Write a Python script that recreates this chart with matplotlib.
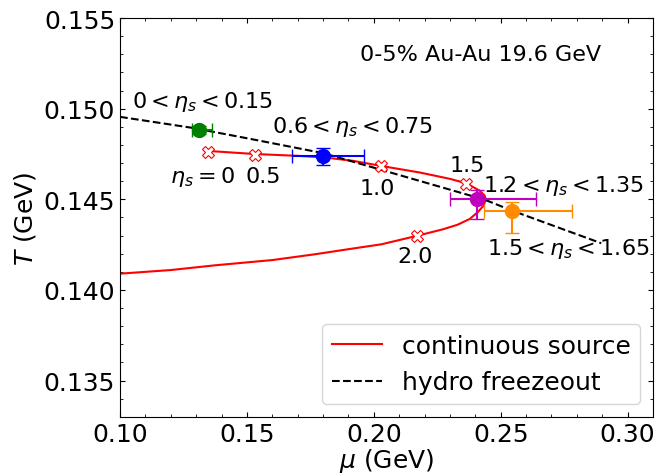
import matplotlib
matplotlib.use("Agg")
import matplotlib.pyplot as plt

# continuous source curve in the (mu, T) plane
src_mu = [0.1348, 0.1531, 0.1700, 0.1800, 0.1920, 0.2030, 0.2181, 0.2300,
          0.2365, 0.2417, 0.2437, 0.2441, 0.2432, 0.2410, 0.2378, 0.2330,
          0.2273, 0.2168, 0.2030, 0.1900, 0.1768, 0.1600, 0.1374, 0.1200, 0.1000]
src_T = [0.14767, 0.14750, 0.14740, 0.14732, 0.14712, 0.14684, 0.14648, 0.14613,
         0.14588, 0.14548, 0.14520, 0.14498, 0.14465, 0.14430, 0.14392, 0.14360,
         0.14335, 0.14298, 0.14252, 0.14225, 0.14197, 0.14165, 0.14136, 0.14110, 0.14090]

# eta_s markers along the source curve
eta_vals = ["0", "0.5", "1.0", "1.5", "2.0"]
eta_mu = [0.1348, 0.1530, 0.2030, 0.2365, 0.2169]
eta_T = [0.14762, 0.14747, 0.14684, 0.14587, 0.14298]

# hydro freezeout line
hyd_mu = [0.100, 0.1282, 0.1504, 0.1800, 0.2004, 0.2437, 0.2546, 0.2896]
hyd_T = [0.14955, 0.14895, 0.14836, 0.14755, 0.14673, 0.14498, 0.14437, 0.14258]

# freezeout points for rapidity windows
win_labels = [r"$0 < \eta_s < 0.15$", r"$0.6 < \eta_s < 0.75$",
              r"$1.2 < \eta_s < 1.35$", r"$1.5 < \eta_s < 1.65$"]
win_colors = ["green", "blue", "m", "darkorange"]
win_mu = [0.1312, 0.1800, 0.2407, 0.2545]
win_T = [0.14882, 0.14738, 0.14502, 0.14437]
win_mu_lo = [0.0030, 0.0124, 0.0105, 0.0111]
win_mu_hi = [0.0049, 0.0162, 0.0231, 0.0237]
win_T_lo = [0.0002, 0.0005, 0.0011, 0.0012]
win_T_hi = [0.0002, 0.00044, 0.0005, 0.0005]

fig, ax = plt.subplots(figsize=(6.67, 4.77), dpi=100)
fig.subplots_adjust(left=0.18, right=0.979, bottom=0.124, top=0.96)

ax.plot(src_mu, src_T, color="red", lw=1.5, label="continuous source")
ax.plot(hyd_mu, hyd_T, color="black", ls="--", lw=1.5, label="hydro freezeout")
ax.plot(eta_mu, eta_T, "X", mfc="white", mec="red", mew=0.8, ms=8.5, ls="none")

for i in range(len(win_mu)):
    ax.errorbar(win_mu[i], win_T[i],
                xerr=[[win_mu_lo[i]], [win_mu_hi[i]]],
                yerr=[[win_T_lo[i]], [win_T_hi[i]]],
                fmt="o", color=win_colors[i], ms=10, capsize=5, elinewidth=1.5)

fs = 16
ax.text(0.1945, 0.1530, "0-5% Au-Au 19.6 GeV", fontsize=fs, va="center")
ax.text(0.1047, 0.1504, win_labels[0], fontsize=fs, va="center")
ax.text(0.1598, 0.14907, win_labels[1], fontsize=fs, va="center")
ax.text(0.2429, 0.14581, win_labels[2], fontsize=fs, va="center")
ax.text(0.2445, 0.14232, win_labels[3], fontsize=fs, va="center")
ax.text(0.1197, 0.1463, r"$\eta_s = 0$", fontsize=fs, va="center")
ax.text(0.1496, 0.1463, eta_vals[1], fontsize=fs, va="center")
ax.text(0.1945, 0.14564, eta_vals[2], fontsize=fs, va="center")
ax.text(0.2300, 0.14692, eta_vals[3], fontsize=fs, va="center")
ax.text(0.2091, 0.14188, eta_vals[4], fontsize=fs, va="center")

ax.set_xlim(0.10, 0.31)
ax.set_ylim(0.133, 0.155)
ax.set_xticks([0.10, 0.15, 0.20, 0.25, 0.30])
ax.set_yticks([0.135, 0.140, 0.145, 0.150, 0.155])
ax.minorticks_on()
ax.tick_params(which="both", direction="in", top=True, right=True, labelsize=18)
ax.set_xlabel(r"$\mu$ (GeV)", fontsize=18, labelpad=0)
ax.set_ylabel(r"$T$ (GeV)", fontsize=18)

ax.legend(loc="lower right", fontsize=18)

plt.savefig("out.png")
